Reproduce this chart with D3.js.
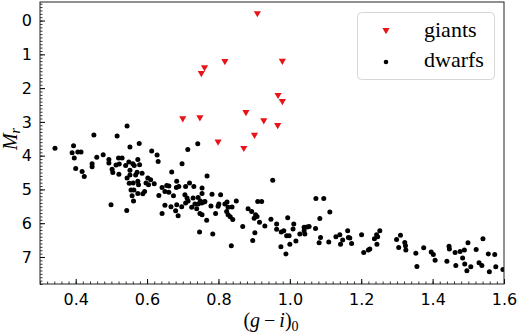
<!DOCTYPE html>
<html>
<head>
<meta charset="utf-8">
<script src="https://cdn.jsdelivr.net/npm/d3@7"></script>
<style>
  html, body { margin: 0; padding: 0; background: #fff; }
  svg { display: block; }
</style>
</head>
<body>
<svg id="chart" width="520" height="335"></svg>
<script>
// ---- data ----
const xTicks = [0.4, 0.6, 0.8, 1.0, 1.2, 1.4, 1.6];
const yTicks = [0, 1, 2, 3, 4, 5, 6, 7];
const legendLabels = ["giants", "dwarfs"];

const giantsX = [0.909, 0.818, 0.979, 0.761, 0.752, 0.967, 0.979, 0.877, 0.700, 0.748, 0.927, 0.966, 0.901, 0.799, 0.871];
const giantsY = [-0.19, 1.23, 1.22, 1.41, 1.58, 2.23, 2.41, 2.74, 2.92, 2.89, 2.98, 3.12, 3.41, 3.61, 3.80];

const dwarfsX = [
  0.342, 0.451, 0.516, 0.544, 0.394, 0.390, 0.406, 0.415, 0.396, 0.400, 0.418, 0.424, 0.459, 0.477, 0.446, 0.446,
  0.493, 0.493, 0.520, 0.530, 0.552, 0.578, 0.502, 0.504, 0.513, 0.522, 0.521, 0.540, 0.549, 0.560, 0.564, 0.574,
  0.579, 0.552, 0.544, 0.552, 0.550, 0.561, 0.568, 0.572, 0.586, 0.574, 0.576, 0.555, 0.563, 0.558, 0.574, 0.562,
  0.588, 0.593, 0.597, 0.604, 0.602, 0.610, 0.620, 0.613, 0.628, 0.631, 0.633, 0.499, 0.543,
  0.698, 0.714, 0.742,
  0.669, 0.768, 0.642, 0.655, 0.661, 0.650, 0.661, 0.683, 0.682, 0.689, 0.674, 0.708, 0.719, 0.731, 0.706, 0.712,
  0.715, 0.708, 0.650, 0.667, 0.683, 0.680, 0.642, 0.687, 0.697, 0.729, 0.734, 0.725, 0.743, 0.749, 0.754, 0.754,
  0.753, 0.760, 0.743, 0.739, 0.748, 0.754, 0.767, 0.762, 0.782, 0.779, 0.806, 0.801, 0.799, 0.792, 0.818, 0.824,
  0.827, 0.823, 0.827, 0.833, 0.840, 0.838, 0.850, 0.747, 0.784, 0.836, 0.868, 0.883, 0.893, 0.904, 0.900, 0.908,
  0.910, 0.921, 0.915, 0.902, 0.896, 0.930, 0.947, 0.952,
  0.963, 0.963, 0.976, 0.983, 0.994, 0.975, 0.991, 0.998, 0.989, 1.000, 1.009, 1.011, 1.017, 1.028, 1.040, 1.040,
  1.042, 1.048, 1.054, 1.073, 1.095, 1.112, 1.084, 1.072, 1.086, 1.082, 1.109, 1.129, 1.140, 1.148, 1.142, 1.162,
  1.164, 1.168, 1.173, 1.201, 1.207, 1.220, 1.224, 1.237, 1.243, 1.246, 1.252, 1.244,
  1.299, 1.310, 1.305, 1.322, 1.324, 1.325, 1.353, 1.356, 1.375, 1.396, 1.402, 1.407, 1.440, 1.446, 1.447, 1.463,
  1.465, 1.477, 1.489, 1.499, 1.484, 1.490, 1.496, 1.507, 1.522, 1.530, 1.538, 1.541, 1.556, 1.559, 1.574, 1.577, 1.597
];
const dwarfsY = [
  3.78, 3.39, 3.42, 3.12, 3.71, 3.91, 3.89, 3.89, 4.07, 4.38, 4.47, 4.62, 4.05, 3.97, 4.24, 4.33,
  4.11, 4.22, 4.07, 4.07, 3.74, 3.64, 4.40, 4.50, 4.28, 4.25, 4.55, 4.29, 4.19, 4.24, 4.29, 4.11,
  4.27, 4.43, 4.66, 4.57, 4.82, 4.81, 4.57, 4.49, 4.52, 4.76, 4.86, 5.02, 5.02, 5.19, 5.12, 5.34,
  5.13, 5.06, 4.81, 4.86, 4.66, 4.71, 4.83, 3.86, 3.98, 4.17, 5.18, 5.45, 5.62,
  4.24, 3.82, 3.65,
  4.48, 4.60, 4.94, 4.88, 4.90, 5.06, 5.08, 4.76, 4.94, 4.91, 5.19, 4.91, 4.81, 4.91, 5.16, 5.25,
  5.34, 5.40, 5.47, 5.51, 5.45, 5.63, 5.71, 5.78, 5.51, 5.25, 5.43, 5.53, 5.24, 5.34, 5.12, 4.96,
  5.40, 5.37, 5.43, 5.57, 5.71, 5.75, 5.91, 5.36, 5.14, 5.49, 5.16, 5.43, 5.50, 5.71, 5.43, 5.37,
  5.53, 5.65, 5.75, 5.81, 5.89, 5.52, 5.34, 6.26, 6.32, 6.67, 6.10, 5.57, 5.65, 5.75, 5.85, 5.80,
  5.36, 5.36, 5.97, 6.28, 6.51, 6.08, 5.88, 4.73,
  6.02, 6.18, 6.26, 6.22, 5.84, 6.70, 6.37, 6.37, 6.91, 6.62, 6.17, 6.02, 6.53, 6.32, 6.12, 6.22,
  6.32, 6.11, 6.10, 5.27, 5.27, 5.67, 5.86, 6.16, 6.42, 6.58, 6.56, 6.40, 6.34, 6.50, 6.62, 6.22,
  6.42, 6.44, 6.60, 6.34, 6.87, 6.79, 6.76, 6.46, 6.34, 6.40, 6.22, 6.62,
  6.48, 6.36, 6.72, 6.57, 6.67, 6.79, 6.89, 7.28, 6.73, 6.85, 6.93, 7.10, 7.13, 6.68, 6.76, 6.87,
  7.25, 6.84, 6.79, 6.58, 7.03, 7.21, 7.41, 7.29, 6.78, 7.17, 7.25, 6.46, 6.91, 7.44, 6.93, 7.29, 7.37
];

// ---- layout ----
const svg = d3.select("#chart");
const L = 40, R = 504, T = 2, B = 284;
const x = d3.scaleLinear().domain([0.3, 1.6]).range([L, R]);
const y = d3.scaleLinear().domain([-0.55, 7.8]).range([T, B]);

const tickFont = "'DejaVu Sans', sans-serif";
const serif = "'Liberation Serif', 'DejaVu Serif', serif";

// clip
svg.append("clipPath").attr("id", "clip").append("rect")
  .attr("x", L).attr("y", T).attr("width", R - L).attr("height", B - T);

// minor ticks
const xMinor = d3.range(15, 81).map(i => i * 0.02).filter(v => v >= 0.3 - 1e-9 && v <= 1.6 + 1e-9);
const yMinor = d3.range(-5, 79).map(i => i * 0.1);

svg.append("g").attr("transform", `translate(0,${B})`)
  .call(d3.axisBottom(x).tickValues(xMinor).tickSize(-2.5).tickFormat(""))
  .call(g => g.select(".domain").remove())
  .call(g => g.selectAll("line").attr("stroke", "#000").attr("stroke-width", 0.8));
svg.append("g").attr("transform", `translate(${L},0)`)
  .call(d3.axisLeft(y).tickValues(yMinor).tickSize(-2.5).tickFormat(""))
  .call(g => g.select(".domain").remove())
  .call(g => g.selectAll("line").attr("stroke", "#000").attr("stroke-width", 0.8));

// major ticks
svg.append("g").attr("transform", `translate(0,${B})`)
  .call(d3.axisBottom(x).tickValues(xTicks).tickSize(-5).tickPadding(10).tickFormat(d3.format(".1f")))
  .call(g => g.select(".domain").remove())
  .call(g => g.selectAll("line").attr("stroke", "#000").attr("stroke-width", 1))
  .call(g => g.selectAll("text").attr("fill", "#000").style("font-family", tickFont).style("font-size", "16px"));
svg.append("g").attr("transform", `translate(${L},0)`)
  .call(d3.axisLeft(y).tickValues(yTicks).tickSize(-5).tickPadding(8).tickFormat(d3.format("d")))
  .call(g => g.select(".domain").remove())
  .call(g => g.selectAll("line").attr("stroke", "#000").attr("stroke-width", 1))
  .call(g => g.selectAll("text").attr("fill", "#000").style("font-family", tickFont).style("font-size", "16px"));

// data
const plot = svg.append("g").attr("clip-path", "url(#clip)");
const dwarfs = dwarfsX.map((v, i) => [v, dwarfsY[i]]);
const giants = giantsX.map((v, i) => [v, giantsY[i]]);

plot.selectAll("circle.dwarf").data(dwarfs).join("circle")
  .attr("class", "dwarf")
  .attr("cx", d => x(d[0])).attr("cy", d => y(d[1])).attr("r", 2.5)
  .attr("fill", "#000");

const tri = "M-3.6,-3L3.6,-3L0,3.2Z";
plot.selectAll("path.giant").data(giants).join("path")
  .attr("class", "giant")
  .attr("transform", d => `translate(${x(d[0])},${y(d[1])})`)
  .attr("d", tri).attr("fill", "#e8141a");

// frame
svg.append("rect").attr("x", L).attr("y", T).attr("width", R - L).attr("height", B - T)
  .attr("fill", "none").attr("stroke", "#222").attr("stroke-width", 1);

// axis labels
const xl = svg.append("text").attr("x", 271).attr("y", 327).attr("text-anchor", "middle")
  .style("font-family", serif).style("font-size", "20px").attr("fill", "#000");
xl.append("tspan").text("(");
xl.append("tspan").style("font-style", "italic").text("g");
xl.append("tspan").text("\u2009\u2212\u2009");
xl.append("tspan").style("font-style", "italic").text("i");
xl.append("tspan").text(")");
xl.append("tspan").attr("dy", 4).style("font-size", "14px").text("0");

const yl = svg.append("text").attr("transform", "translate(17,139) rotate(-90)").attr("text-anchor", "middle")
  .style("font-family", serif).style("font-size", "20px").attr("fill", "#000");
yl.append("tspan").style("font-style", "italic").text("M");
yl.append("tspan").attr("dy", 3).style("font-size", "14px").style("font-style", "italic").text("r");

// legend
const lg = svg.append("g");
lg.append("rect").attr("x", 357.5).attr("y", 12.5).attr("width", 137).attr("height", 67).attr("rx", 4)
  .attr("fill", "#fff").attr("fill-opacity", 0.8).attr("stroke", "#d6d6d6").attr("stroke-width", 1);
lg.append("path").attr("transform", "translate(386,31)").attr("d", tri).attr("fill", "#e8141a");
lg.append("circle").attr("cx", 386).attr("cy", 62).attr("r", 2.3).attr("fill", "#000");
lg.selectAll("text.lab").data(legendLabels).join("text").attr("class", "lab")
  .attr("x", 424).attr("y", (d, i) => 37 + i * 30)
  .style("font-family", serif).style("font-size", "22px").attr("fill", "#000").text(d => d);
</script>
</body>
</html>
